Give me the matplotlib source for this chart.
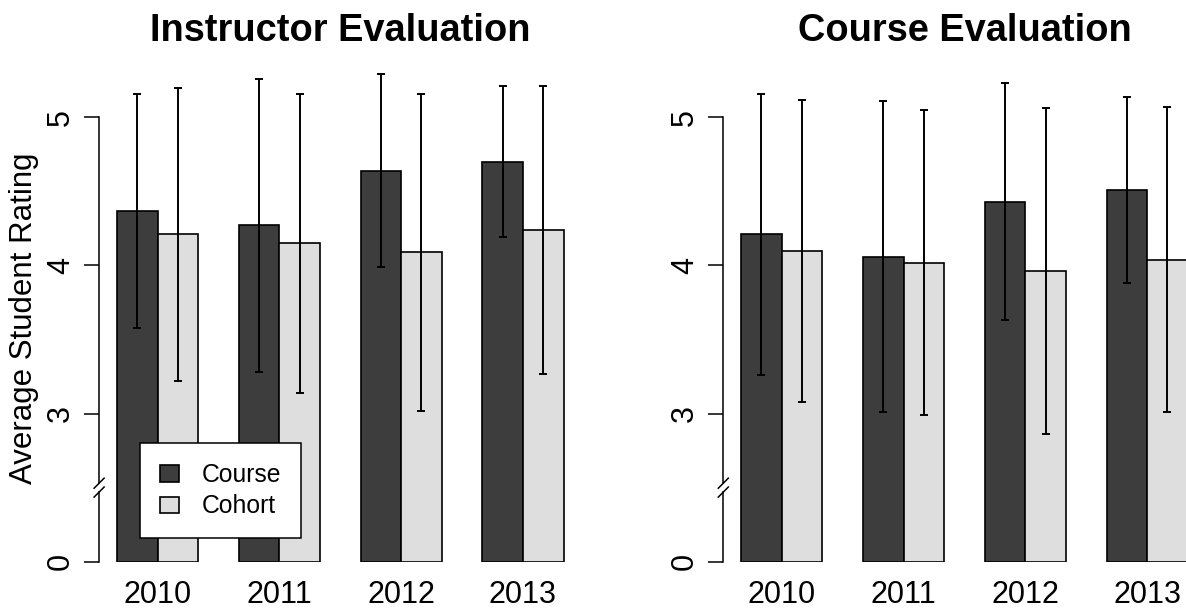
import numpy as np
import matplotlib
matplotlib.use('Agg')
import matplotlib.pyplot as plt

plt.rcParams['font.family'] = ['Liberation Sans', 'DejaVu Sans']

#Данные
years = ['2010', '2011', '2012', '2013']
series = ['Course', 'Cohort']
instr_course = [4.37, 4.27, 4.64, 4.70]
instr_course_sd = [0.79, 0.99, 0.65, 0.51]
instr_cohort = [4.21, 4.15, 4.09, 4.24]
instr_cohort_sd = [0.99, 1.01, 1.07, 0.97]
course_course = [4.21, 4.06, 4.43, 4.51]
course_course_sd = [0.95, 1.05, 0.80, 0.63]
course_cohort = [4.10, 4.02, 3.96, 4.04]
course_cohort_sd = [1.02, 1.03, 1.10, 1.03]
titles = ['Instructor Evaluation', 'Course Evaluation']

#Разрыв оси: 0 рисуется на уровне 2
base = 2.0
ytick_pos = [2, 3, 4, 5]
ytick_lab = ['0', '3', '4', '5']

dark = '#3d3d3d'
light = '#dedede'

W, H = 1186, 611
fig = plt.figure(figsize=(W/100, H/100), dpi=100)
bot = (H-561.7)/H
hgt = 518.4/H
ax1 = fig.add_axes([99.1/W, bot, 482.3/W, hgt])
ax2 = fig.add_axes([723.3/W, bot, 482.3/W, hgt])

def panel(ax, m1, s1, m2, s2, title):
    n = len(years)
    xc = np.arange(n)*3+1.5
    xh = xc+1
    b1 = ax.bar(xc, np.array(m1)-base, bottom=base, width=1, color=dark,
                edgecolor='black', linewidth=1.2, zorder=2)
    b2 = ax.bar(xh, np.array(m2)-base, bottom=base, width=1, color=light,
                edgecolor='black', linewidth=1.2, zorder=2)
    ax.errorbar(xc, m1, yerr=s1, fmt='none', ecolor='black', elinewidth=1.4,
                capsize=2.7, capthick=1.4, zorder=3, clip_on=False)
    ax.errorbar(xh, m2, yerr=s2, fmt='none', ecolor='black', elinewidth=1.4,
                capsize=2.7, capthick=1.4, zorder=3, clip_on=False)
    ax.set_xlim(0.56, 12.44)
    ax.set_ylim(base, 5.5)
    for sp in ax.spines.values():
        sp.set_visible(False)
    ax.set_xticks(xc+0.5)
    ax.set_xticklabels(years, fontsize=22)
    ax.tick_params(axis='x', length=0, pad=13.5)
    ax.set_yticks(ytick_pos)
    ax.set_yticklabels(ytick_lab, fontsize=22, rotation=90, va='center')
    ax.tick_params(axis='y', length=10.8, width=1.1, pad=5.8)
    # ось с разрывом
    tr = ax.get_yaxis_transform()
    ax.plot([0, 0], [base, 2.47], transform=tr, color='black', lw=1.1, clip_on=False)
    ax.plot([0, 0], [2.53, 5], transform=tr, color='black', lw=1.1, clip_on=False)
    for yb in [2.47, 2.53]:
        ax.plot([-0.0104, 0.0104], [yb-0.034, yb+0.034], transform=tr,
                color='black', lw=1.1, clip_on=False)
    p = ax.get_position()
    fig.text(p.x0+p.width/2, 1-41/H, title, ha='center', va='baseline',
             fontsize=27.4, fontweight='bold')
    return b1, b2

b1, b2 = panel(ax1, instr_course, instr_course_sd, instr_cohort, instr_cohort_sd, titles[0])
panel(ax2, course_course, course_course_sd, course_cohort, course_cohort_sd, titles[1])

fig.text(24/W, 1-318.6/H, 'Average Student Rating', rotation=90, ha='center',
         va='center', fontsize=22.5)

leg = ax1.legend([b1, b2], series, loc='upper left',
                 bbox_to_anchor=(140/W, 1-443.3/H), bbox_transform=fig.transFigure,
                 fontsize=17.8, frameon=True, fancybox=False, edgecolor='black',
                 framealpha=1, borderaxespad=0, handlelength=0.78, handleheight=0.65,
                 handletextpad=0.9, borderpad=0.8, labelspacing=0.3)
leg.get_frame().set_linewidth(1.1)
leg.set_zorder(5)

fig.savefig('out.png', dpi=100)
